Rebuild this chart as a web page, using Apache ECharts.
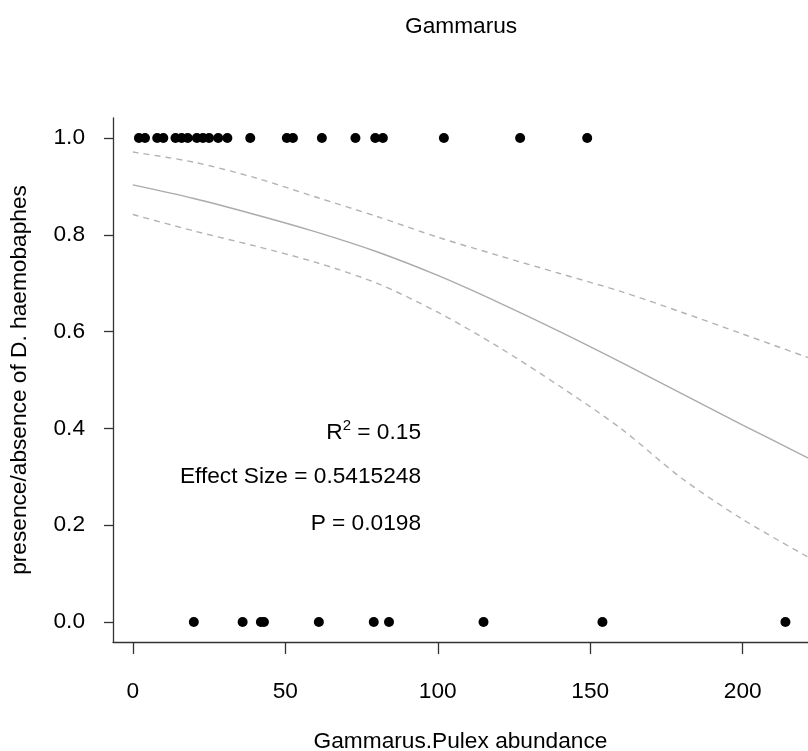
<!DOCTYPE html>
<html>
<head>
<meta charset="utf-8">
<script src="https://cdn.jsdelivr.net/npm/echarts@6/dist/echarts.min.js"></script>
<style>
  html, body { margin: 0; padding: 0; background: #fff; }
  #chart { width: 808px; height: 751px; }
</style>
</head>
<body>
<div id="chart"></div>
<script>
// observed presence (1) / absence (0) against abundance
var presentX = [2, 4, 8, 10, 14, 16, 18, 21, 23, 25, 28, 31, 38.5, 50.5, 52.5, 62, 73, 79.5, 82, 102, 127, 149];
var absentX = [20, 36, 42, 43, 61, 79, 84, 115, 154, 214];

// fitted curve + confidence band
var curveX = [0, 20, 40, 60, 80, 100, 120, 140, 160, 180, 200, 222];
var fitY = [0.903, 0.875, 0.842, 0.806, 0.765, 0.716, 0.660, 0.600, 0.537, 0.472, 0.407, 0.337];
var upperY = [0.971, 0.950, 0.918, 0.878, 0.838, 0.795, 0.757, 0.720, 0.683, 0.640, 0.595, 0.545];
var lowerY = [0.842, 0.808, 0.777, 0.743, 0.700, 0.640, 0.568, 0.487, 0.400, 0.297, 0.212, 0.132];

var xTicks = [0, 50, 100, 150, 200];
var yTicks = [0, 0.2, 0.4, 0.6, 0.8, 1.0];

// text annotations (right edge at annotX)
var annotX = [94.5, 94.5, 94.5];
var annotY = [0.392, 0.301, 0.202];
var annotText = ['{t|R}{sup|2}{t| = 0.15}', '{t|Effect Size = 0.5415248}', '{t|P = 0.0198}'];

var FONT = "'Liberation Sans', Arial, sans-serif";
var FS = 22.7;

function pairs(xs, ys) {
    var out = [];
    for (var i = 0; i < xs.length; i++)
        out.push([xs[i], ys[i]]);
    return out;
}
function constPairs(xs, v) {
    return xs.map(function (x) { return [x, v]; });
}

var lineStyleBase = { color: '#b3b3b3', width: 1.4 };

var option = {
    backgroundColor: '#fff',
    animation: false,
    textStyle: { fontFamily: FONT },
    title: {
        text: 'Gammarus',
        left: 400,
        top: 10,
        textStyle: { fontFamily: FONT, fontSize: FS, fontWeight: 'normal', color: '#000' }
    },
    grid: { left: 113, right: 0, top: 118, bottom: 109, containLabel: false, outerBoundsMode: 'none' },
    xAxis: {
        type: 'value',
        min: -6.5,
        max: 221.4,
        name: 'Gammarus.Pulex abundance',
        nameLocation: 'middle',
        nameGap: 88,
        nameTextStyle: { fontFamily: FONT, fontSize: FS, color: '#000' },
        splitLine: { show: false },
        axisLine: { show: true, onZero: false, lineStyle: { color: '#333', width: 1.3 } },
        axisTick: { show: true, length: 12, customValues: xTicks, lineStyle: { color: '#333', width: 1.3 } },
        axisLabel: { customValues: xTicks, margin: 38, fontFamily: FONT, fontSize: FS, color: '#000' }
    },
    yAxis: {
        type: 'value',
        min: -0.0413,
        max: 1.0413,
        name: 'presence/absence of D. haemobaphes',
        nameLocation: 'middle',
        nameGap: 82,
        nameRotate: 90,
        nameTextStyle: { fontFamily: FONT, fontSize: FS, color: '#000' },
        splitLine: { show: false },
        axisLine: { show: true, onZero: false, lineStyle: { color: '#333', width: 1.3 } },
        axisTick: { show: true, length: 9, customValues: yTicks, lineStyle: { color: '#333', width: 1.3 } },
        axisLabel: {
            customValues: yTicks, margin: 28, fontFamily: FONT, fontSize: FS, color: '#000',
            formatter: function (v) { return v.toFixed(1); }
        }
    },
    series: [
        {
            type: 'line', data: pairs(curveX, upperY), smooth: 0.3, symbol: 'none',
            lineStyle: Object.assign({}, lineStyleBase, { type: [6, 5] })
        },
        {
            type: 'line', data: pairs(curveX, fitY), smooth: 0.3, symbol: 'none',
            lineStyle: Object.assign({}, lineStyleBase, { color: '#ababab' })
        },
        {
            type: 'line', data: pairs(curveX, lowerY), smooth: 0.3, symbol: 'none',
            lineStyle: Object.assign({}, lineStyleBase, { type: [6, 5] })
        },
        {
            type: 'scatter', data: constPairs(presentX, 1), symbol: 'circle', symbolSize: 10,
            itemStyle: { color: '#000', opacity: 1 }
        },
        {
            type: 'scatter', data: constPairs(absentX, 0), symbol: 'circle', symbolSize: 10,
            itemStyle: { color: '#000', opacity: 1 }
        },
        {
            type: 'scatter', symbolSize: 0, silent: true,
            itemStyle: { opacity: 1 },
            data: annotY.map(function (y, i) {
                return { value: [annotX[i], y], label: { formatter: annotText[i] } };
            }),
            label: {
                show: true, position: 'left', distance: 0, align: 'right',
                rich: {
                    t: { fontFamily: FONT, fontSize: FS, color: '#000' },
                    sup: { fontFamily: FONT, fontSize: 15, color: '#000', verticalAlign: 'top', padding: [0, 0, 12, 0] }
                }
            }
        }
    ]
};

var chart = echarts.init(document.getElementById('chart'));
chart.setOption(option);
</script>
</body>
</html>
